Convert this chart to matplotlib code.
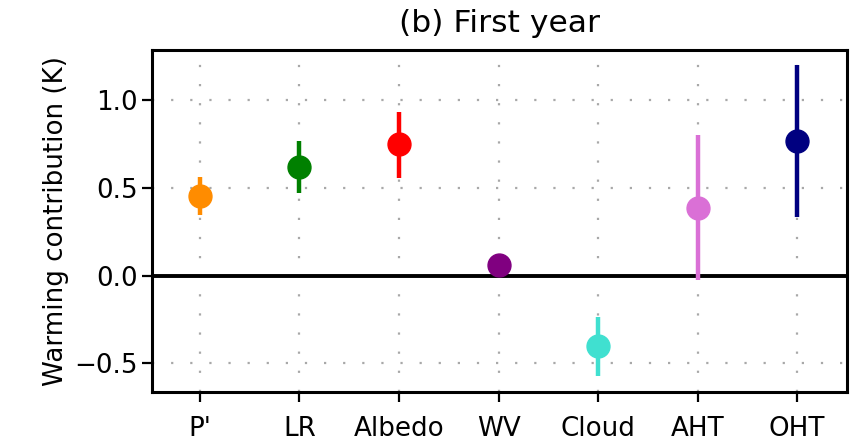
import numpy as np
import matplotlib
matplotlib.use("Agg")
import matplotlib.pyplot as plt

# feedback terms and their first-year warming contributions (K)
terms = ["P'", "LR", "Albedo", "WV", "Cloud", "AHT", "OHT"]
mean = [0.453, 0.621, 0.749, 0.063, -0.400, 0.387, 0.767]
low = [0.343, 0.473, 0.558, 0.045, -0.571, -0.027, 0.335]
high = [0.564, 0.766, 0.931, 0.080, -0.233, 0.800, 1.200]
colors = ["darkorange", "green", "red", "purple", "turquoise", "orchid", "navy"]

plt.rcParams["font.size"] = 18.8

fig = plt.figure(figsize=(8.51, 4.42), dpi=100)
ax = fig.add_axes([152 / 851, 50 / 442, 695 / 851, 342 / 442])

x = np.arange(len(terms))
for i in range(len(terms)):
    err = [[mean[i] - low[i]], [high[i] - mean[i]]]
    ax.errorbar(x[i], mean[i], yerr=err, fmt="o", color=colors[i],
                ms=16.5, elinewidth=3.2, capsize=0, zorder=3)

ax.axhline(0, color="black", lw=2.8, zorder=2)

ax.set_xlim(-0.48, 6.5)
ax.set_ylim(-0.663, 1.286)
ax.set_xticks(x)
ax.set_xticklabels(terms)
ax.set_yticks([-0.5, 0.0, 0.5, 1.0])
ax.grid(True, linestyle=(0, (1, 7.6)), color="#a8a8a8", lw=1.6, zorder=1)
ax.tick_params(length=7, width=1.6)
ax.tick_params(axis="x", pad=10)
ax.tick_params(axis="y", pad=3)
for s in ax.spines.values():
    s.set_linewidth(2.2)

ax.set_ylabel("Warming contribution (K)")
ax.set_title("(b) First year", pad=13)

fig.savefig("out.png", dpi=100)
